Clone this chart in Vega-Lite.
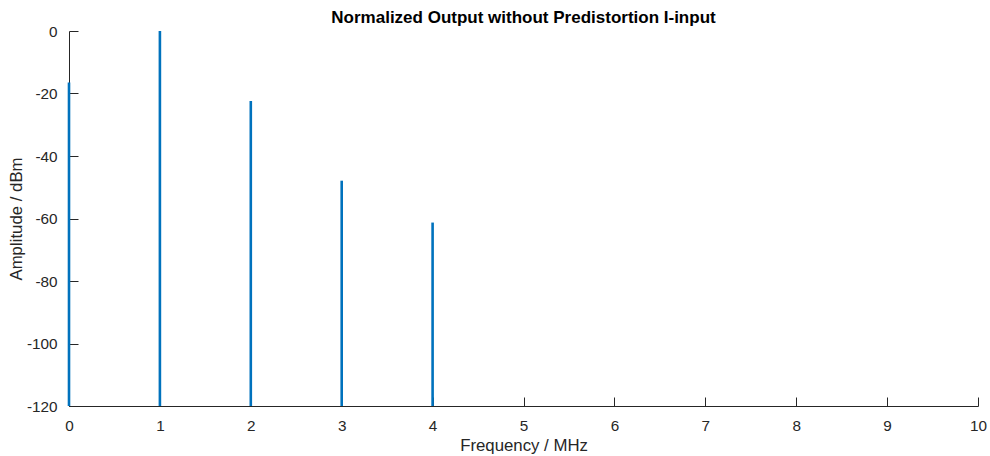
{
  "$schema": "https://vega.github.io/schema/vega-lite/v6.json",
  "width": 909,
  "height": 375,
  "autosize": {"type": "none"},
  "padding": {"left": 69, "top": 31, "right": 12, "bottom": 50},
  "background": "white",
  "title": {
    "text": "Normalized Output without Predistortion I-input",
    "font": "Liberation Sans",
    "fontSize": 17,
    "fontWeight": "bold",
    "color": "#000000",
    "anchor": "middle",
    "offset": -3
  },
  "data": {
    "values": [
      {"freq": 0, "amp": -16.5},
      {"freq": 1, "amp": 0},
      {"freq": 2, "amp": -22.4},
      {"freq": 3, "amp": -47.9},
      {"freq": 4, "amp": -61.3}
    ]
  },
  "mark": {"type": "rule", "color": "#0072BD", "strokeWidth": 2.6, "clip": false},
  "encoding": {
    "x": {
      "field": "freq",
      "type": "quantitative",
      "scale": {"domain": [0, 10], "nice": false, "zero": false},
      "axis": {
        "title": "Frequency / MHz",
        "values": [0, 1, 2, 3, 4, 5, 6, 7, 8, 9, 10],
        "grid": false,
        "titlePadding": 4.5
      }
    },
    "y": {
      "field": "amp",
      "type": "quantitative",
      "scale": {"domain": [-120, 0], "nice": false},
      "axis": {
        "title": "Amplitude / dBm",
        "values": [-120, -100, -80, -60, -40, -20, 0],
        "grid": false,
        "labelExpr": "datum.value < 0 ? '-' + abs(datum.value) : '' + datum.value",
        "titlePadding": 1
      }
    },
    "y2": {"datum": -120}
  },
  "config": {
    "view": {"stroke": null},
    "axis": {
      "domainColor": "#262626",
      "tickColor": "#262626",
      "tickSize": -9,
      "labelPadding": 21,
      "labelFont": "Liberation Sans",
      "labelFontSize": 15.3,
      "labelColor": "#262626",
      "titleFont": "Liberation Sans",
      "titleFontSize": 16.8,
      "titleFontWeight": "normal",
      "titleColor": "#262626",
      "labelFlush": false,
      "labelOverlap": false
    }
  }
}
